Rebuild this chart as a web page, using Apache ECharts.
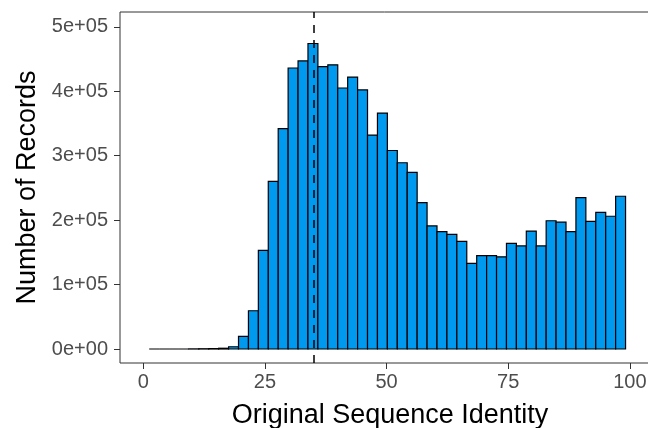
<!DOCTYPE html>
<html>
<head>
<meta charset="utf-8">
<script src="https://cdn.jsdelivr.net/npm/echarts@6/dist/echarts.min.js"></script>
<style>
  html, body { margin: 0; padding: 0; background: #fff; }
  #main { width: 648px; height: 428px; }
</style>
</head>
<body>
<div id="main"></div>
<script>
// histogram bins: first lower edge and width
const binStart = 1.2;
const binWidth = 2.04;
// counts per bin, left to right
const counts = [
    0, 0, 0, 0, 200, 400, 600, 1200, 3500,
    19500, 59400, 153000, 260000, 342000, 436000, 447000, 474000,
    438000, 441000, 405000, 422000, 402000, 332000, 366000, 308000,
    289000, 274000, 227000, 191000, 182000, 178000, 167000, 133000,
    145000, 145000, 143000, 164000, 160000, 183000, 160000, 199000,
    197000, 182000, 235000, 198000, 212000, 206000, 237000
];
const meanIdentity = 35.1;
const xTicks = [0, 25, 50, 75, 100];
const yTicks = [0, 100000, 200000, 300000, 400000, 500000];

let bins = counts.map((c, i) => [binStart + i * binWidth, binStart + (i + 1) * binWidth, c]);

function sci(v) {
    if (v === 0) return '0e+00';
    let e = Math.floor(Math.log10(v));
    let m = Math.round(v / Math.pow(10, e));
    return m + 'e+' + (e < 10 ? '0' + e : e);
}

var myChart = echarts.init(document.getElementById('main'));
var option = {
    animation: false,
    textStyle: { fontFamily: 'Liberation Sans' },
    grid: {
        left: 120, top: 12, width: 540, height: 351,
        outerBoundsMode: 'none',
        containLabel: false,
        show: true, borderColor: '#333333', borderWidth: 1
    },
    xAxis: {
        type: 'value',
        min: -4.8, max: 106.2,
        splitLine: { show: false },
        axisLine: { show: false, onZero: false },
        axisTick: { show: true, customValues: xTicks, length: 6, lineStyle: { color: '#333333', width: 1 } },
        axisLabel: { customValues: xTicks, color: '#4D4D4D', fontSize: 20, margin: 9 },
        name: 'Original Sequence Identity',
        nameLocation: 'middle',
        nameGap: 39,
        nameTextStyle: { color: '#000', fontSize: 27 }
    },
    yAxis: {
        type: 'value',
        min: -21700, max: 522900,
        splitLine: { show: false },
        axisLine: { show: false, onZero: false },
        axisTick: { show: true, customValues: yTicks, length: 6, lineStyle: { color: '#333333', width: 1 } },
        axisLabel: { customValues: yTicks, color: '#4D4D4D', fontSize: 20, margin: 12, formatter: sci },
        name: 'Number of Records',
        nameLocation: 'middle',
        nameGap: 78,
        nameTextStyle: { color: '#000', fontSize: 27 }
    },
    series: [
        {
            type: 'custom',
            data: bins,
            renderItem: function(params, api) {
                let p0 = api.coord([api.value(0), 0]);
                let p1 = api.coord([api.value(1), api.value(2)]);
                return {
                    type: 'rect',
                    shape: { x: p0[0], y: p1[1], width: p1[0] - p0[0], height: p0[1] - p1[1] },
                    style: { fill: '#0099F0', stroke: '#000', lineWidth: 1.2 }
                };
            }
        },
        {
            type: 'line',
            data: [],
            markLine: {
                silent: true,
                symbol: 'none',
                label: { show: false },
                lineStyle: { color: '#000', width: 1.5, type: [8, 7] },
                data: [{ xAxis: meanIdentity }]
            }
        }
    ]
};
myChart.setOption(option);
</script>
</body>
</html>
